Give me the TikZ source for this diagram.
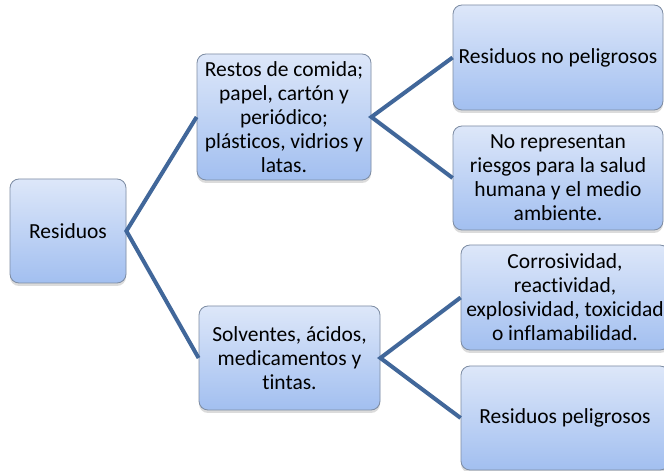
\documentclass[tikz,border=0pt]{standalone}
\usepackage{fontspec}
\setmainfont[RawFeature=-liga]{Carlito}
\usetikzlibrary{shadows}
\definecolor{boxtop}{HTML}{DDE7F9}
\definecolor{boxbot}{HTML}{A2BFF0}
\definecolor{boxborder}{HTML}{7D8CA3}
\definecolor{linkcol}{HTML}{41679A}
\tikzset{
  box/.style={draw=boxborder, line width=0.8pt, rounded corners=9pt,
    top color=boxtop, bottom color=boxbot, align=center, inner sep=0pt,
    font=\fontsize{21.5}{24}\selectfont,
    drop shadow={opacity=0.28, shadow xshift=0pt, shadow yshift=-3pt}},
  link/.style={draw=linkcol, line width=4pt, line join=miter}
}
\begin{document}
\begin{tikzpicture}[x=1pt,y=1pt]
\useasboundingbox (0,0) rectangle (664,471);
\fill[white] (0,0) rectangle (664,471);
\node[box, minimum width=116, minimum height=104] (res) at (68,240) {Residuos};
\node[box, minimum width=174, minimum height=126] (restos) at (284,354) {Restos de comida;\\papel, cartón y\\periódico;\\plásticos, vidrios y\\latas.};
\node[box, minimum width=181, minimum height=104] (solv) at (289.5,113) {Solventes, ácidos,\\medicamentos y\\tintas.};
\node[box, minimum width=210, minimum height=105] (nop) at (558,413.5) {Residuos no peligrosos};
\node[box, minimum width=210, minimum height=104] (norep) at (558,293) {No representan\\riesgos para la salud\\humana y el medio\\ambiente.};
\node[box, minimum width=208, minimum height=105] (corr) at (565,173.5) {Corrosividad,\\reactividad,\\explosividad, toxicidad\\o inflamabilidad.};
\node[box, minimum width=208, minimum height=104] (pel) at (565,53) {Residuos peligrosos};
\draw[link] (restos.west) -- (res.east) -- (solv.west);
\draw[link] (nop.west) -- (restos.east) -- (norep.west);
\draw[link] (corr.west) -- (solv.east) -- (pel.west);
\end{tikzpicture}
\end{document}
